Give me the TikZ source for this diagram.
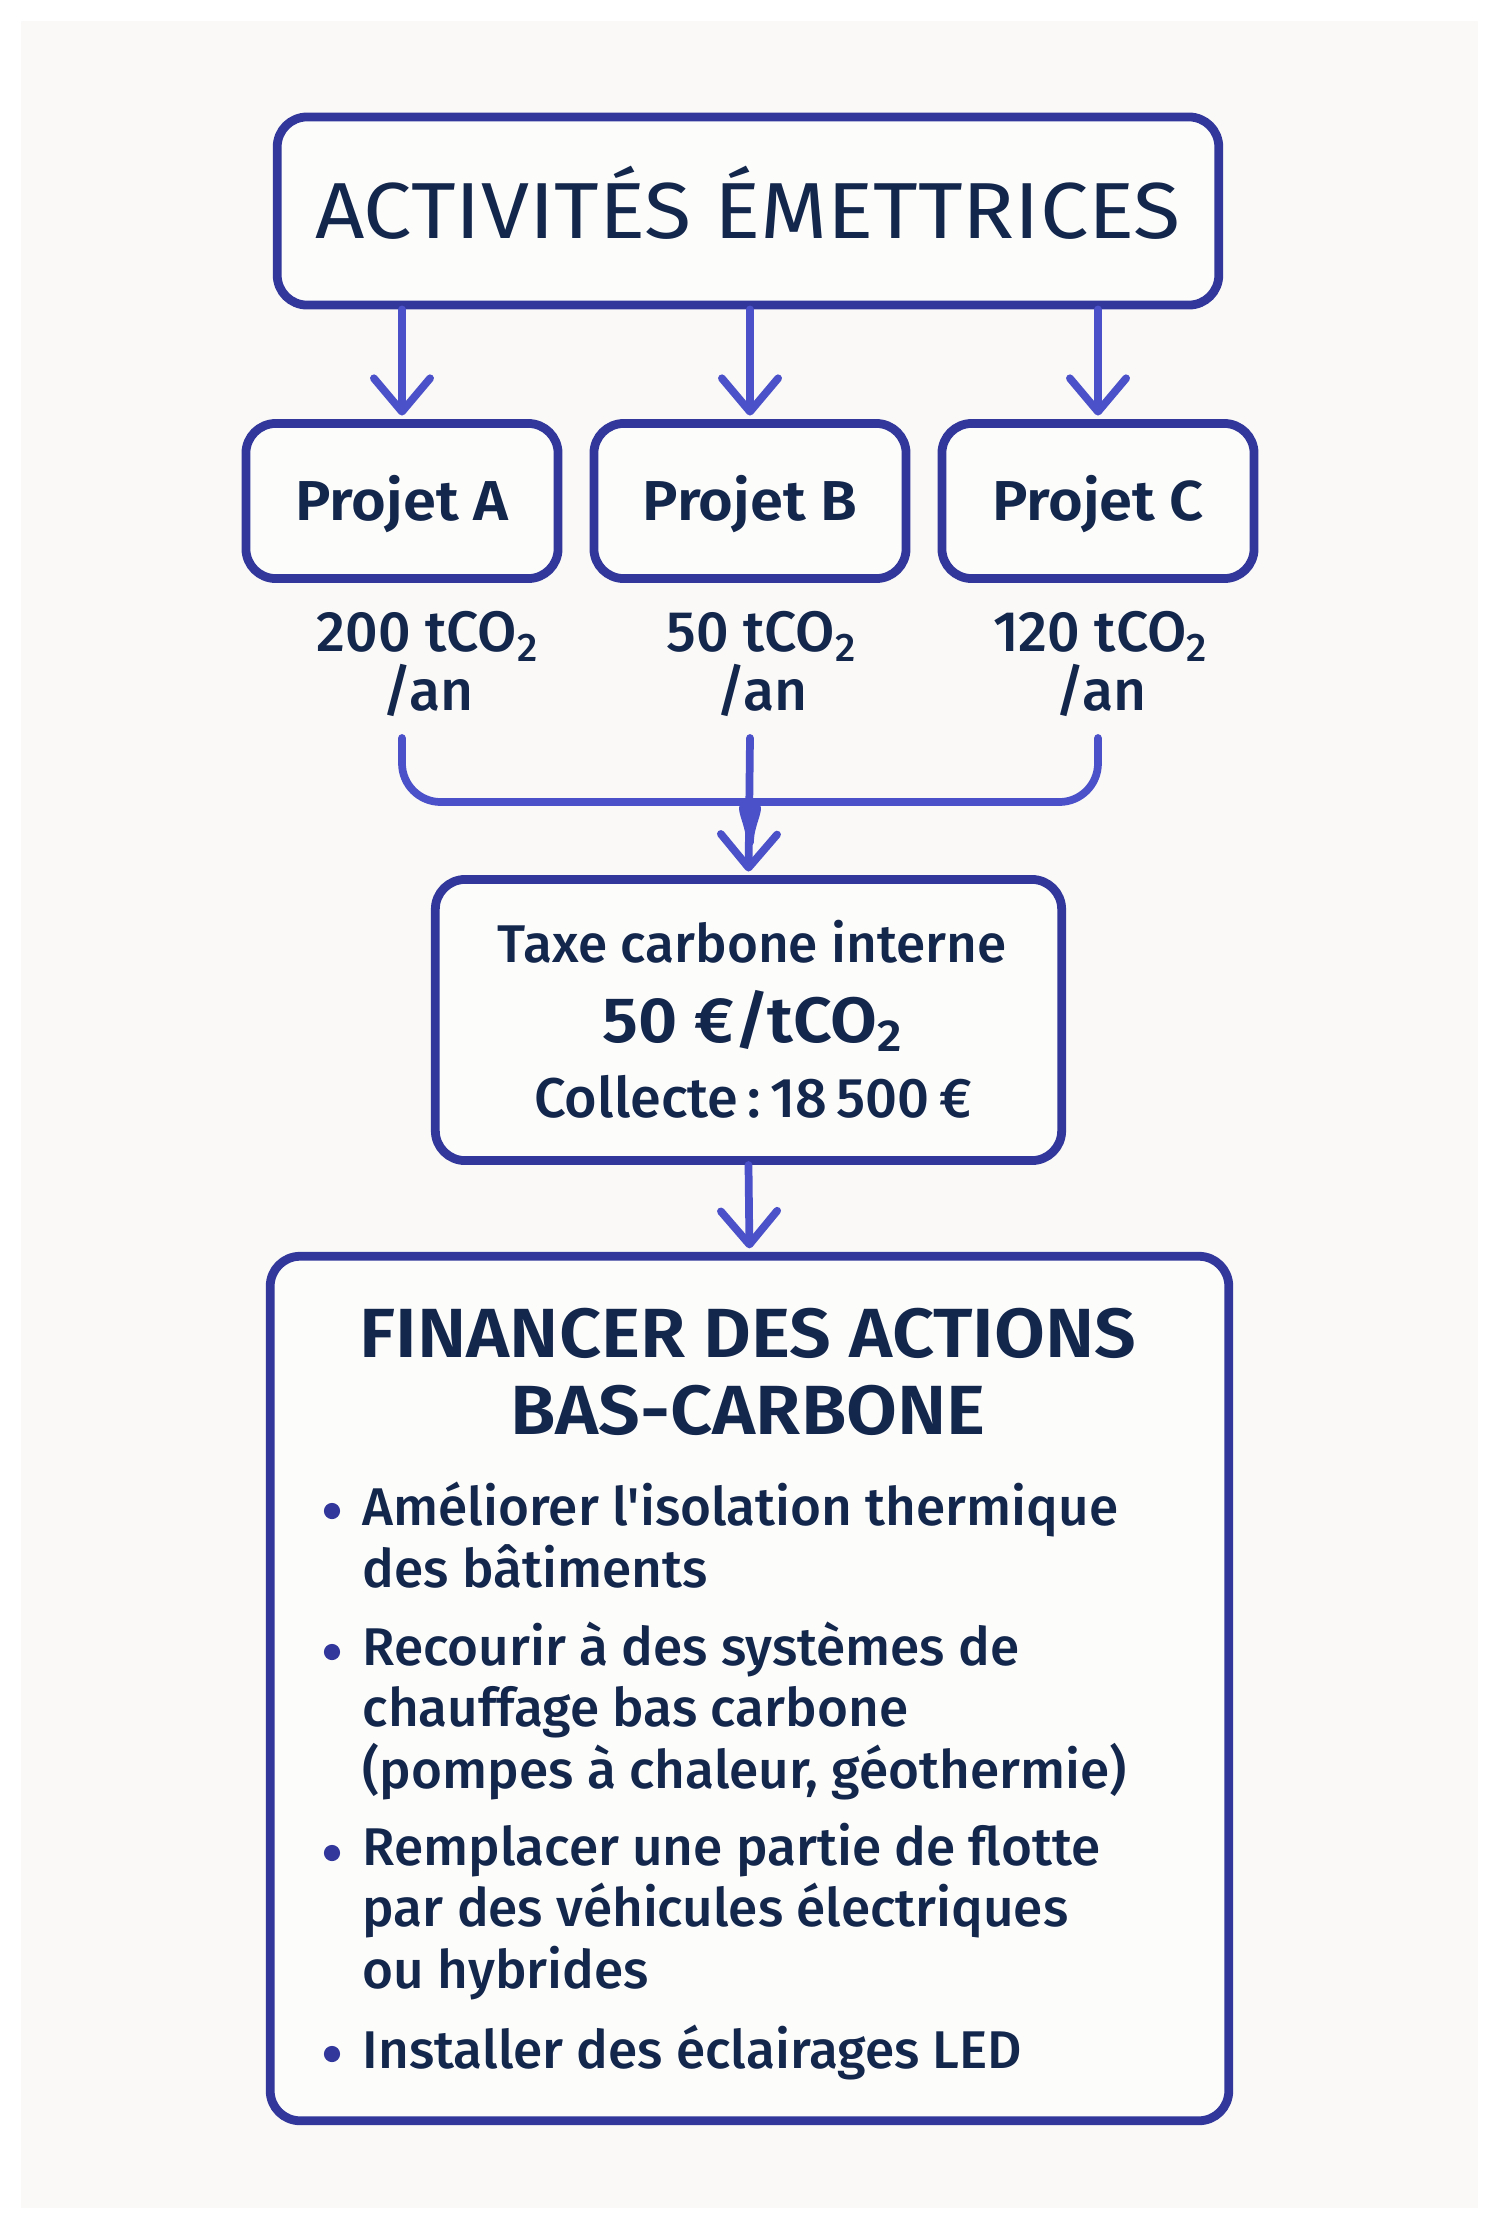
\documentclass[tikz,border=0pt]{standalone}
\usepackage{fontspec}
\setmainfont{Fira Sans}[BoldFont={Fira Sans SemiBold}]
\newfontfamily\mediumfont{Fira Sans Medium}
\newfontfamily\widefont{Fira Sans}[FakeStretch=1.085]
\newfontfamily\widebold{Fira Sans SemiBold}[FakeStretch=1.06]
\usetikzlibrary{arrows.meta}

\definecolor{boxline}{HTML}{31379B}
\definecolor{flowblue}{HTML}{4B51C9}
\definecolor{ink}{HTML}{13264C}
\definecolor{paper}{HTML}{FAF9F7}
\definecolor{cardfill}{HTML}{FCFCFB}

\tikzset{
  card/.style={draw=boxline, fill=cardfill, line width=2.5pt, rounded corners=8.5pt},
  flow/.style={draw=flowblue, line width=2.2pt, line cap=round},
  flowtip/.style={flow, -{Straight Barb[length=9.5pt,width=16pt,round]}, shorten >=1pt},
  txt/.style={text=ink, inner sep=0pt},
  projet/.style={minimum width=3.12cm, minimum height=1.55cm, text height=10.8pt, text depth=0pt,
    font=\fontsize{16}{18}\widebold},
  lbl/.style={txt, inner ysep=6pt, align=center, anchor=base, font=\fontsize{16.2}{16.5}\mediumfont},
  item/.style={txt, align=left, anchor=base west, font=\fontsize{15.1}{17.4}\mediumfont},
}

\begin{document}
\begin{tikzpicture}[x=0.01cm, y=-0.01cm]
% Page
\useasboundingbox (0,0) rectangle (1500,2229);
\fill[white] (0,0) rectangle (1500,2229);
\fill[paper] (21,21) rectangle (1478,2208);
% Emitting activities
\node[card, txt, minimum width=9.41cm, minimum height=1.88cm, text height=15.4pt, text depth=0pt,
  font=\fontsize{22.6}{26}\widefont] (act) at (748,211) {ACTIVITÉS ÉMETTRICES};
% Projects
\node[card, txt, projet] (pa) at (402,501) {Projet A};
\node[card, txt, projet] (pb) at (750,501) {Projet B};
\node[card, txt, projet] (pc) at (1098,501) {Projet C};
\foreach \p in {pa,pb,pc} \draw[flowtip] (act.south -| \p.north) -- (\p.north);
% Emissions
\node[lbl] (la) at (428,710) {200 tCO\textsubscript{2}\\/an};
\node[lbl] (lb) at (762,710) {50 tCO\textsubscript{2}\\/an};
\node[lbl] (lc) at (1101,710) {120 tCO\textsubscript{2}\\/an};
% Merge into the tax
\coordinate (merge) at (750,842);
\node[card, minimum width=6.26cm, minimum height=2.81cm] (taxe) at (748.5,1020) {};
\node[txt, anchor=base, font=\fontsize{15.1}{18}\mediumfont] (taxet) at (752,962) {Taxe carbone interne};
\node[txt, anchor=base, font=\fontsize{18.2}{20}\widebold] (taxer) at (753,1042) {50 €/tCO\textsubscript{2}};
\node[txt, anchor=base, font=\fontsize{15.9}{18}\mediumfont] (taxec) at (753,1117) {Collecte\,:\,18\,500\,€};
\draw[flow, rounded corners=11pt] (la.south -| pa.south) |- (712,802) to[out=0,in=90] (merge);
\draw[flow, rounded corners=11pt] (lc.south -| pc.south) |- (788,802) to[out=180,in=90] (merge);
\draw[flowtip] (lb.south -| pb.south) -- (taxe.north);
% Financed actions
\node[card, minimum width=9.58cm, minimum height=8.64cm] (fin) at (749.5,1688.5) {};
\draw[flowtip] (taxe.south) -- (fin.north);
\node[txt, align=center, anchor=base, font=\fontsize{19.8}{21.9}\widebold] (fint) at (748,1434)
  {FINANCER DES ACTIONS\\BAS-CARBONE};
\foreach \i/\yd/\yb/\t in {1/1511/1587/{Améliorer l\textquotesingle isolation thermique\\des bâtiments},
    2/1652/1788/{Recourir à des systèmes de\\chauffage bas carbone\\(pompes à chaleur, géothermie)},
    3/1853/1988/{Remplacer une partie de flotte\\par des véhicules électriques\\ou hybrides},
    4/2054/2068/{Installer des éclairages LED}} {
  \fill[boxline] (332,\yd) circle (2.3pt);
  \node[item] (it\i) at (362,\yb) {\t};
}
\end{tikzpicture}
\end{document}
